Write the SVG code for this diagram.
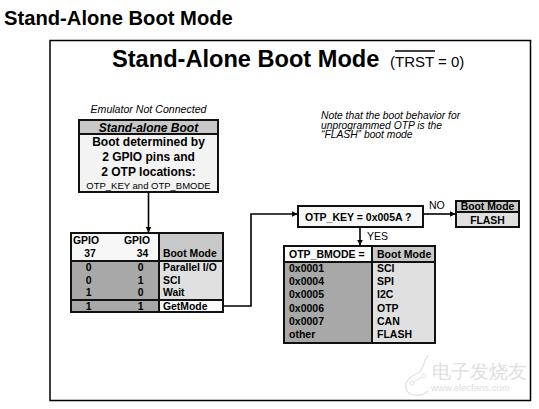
<svg xmlns="http://www.w3.org/2000/svg" width="539" height="409" viewBox="0 0 539 409">
<defs>
<style>
text{font-family:"Liberation Sans",Arial,sans-serif;fill:#000}
.b{font-weight:bold}
.i{font-style:italic}
.c{text-anchor:middle}
.box{stroke:#111;stroke-width:2}
.ln{stroke:#111;stroke-width:2;fill:none}
.con{stroke:#000;stroke-width:1.6;fill:none}
.t10{font-size:10.4px}
</style>
<marker id="ah" viewBox="0 0 10 10" refX="9" refY="5" markerWidth="6" markerHeight="6" markerUnits="userSpaceOnUse" orient="auto"><path d="M0,0L10,5L0,10z" fill="#000"/></marker>
</defs>
<rect width="539" height="409" fill="#fff"/>
<text x="4" y="25" class="b" font-size="20.2">Stand-Alone Boot Mode</text>
<rect x="50" y="40.5" width="480.5" height="360" fill="#fff" stroke="#000" stroke-width="1.5"/>
<text x="112" y="67" class="b" font-size="23.6">Stand-Alone Boot Mode</text>
<text x="390" y="67" font-size="15">(TRST = 0)</text>
<line x1="395" y1="51" x2="435" y2="51" stroke="#000" stroke-width="1.3"/>

<g id="note"><text class="i" font-size="10.3"><tspan x="321" y="119">Note that the boot behavior for</tspan><tspan x="321" y="128.5">unprogrammed OTP is the</tspan><tspan x="321" y="138">“FLASH” boot mode</tspan></text></g>

<g id="standalone">
<text x="148.5" y="113" class="i c" font-size="10.6">Emulator Not Connected</text>
<rect x="79" y="120" width="139" height="72" fill="#f3f3f3" class="box"/>
<rect x="79" y="120" width="139" height="14" fill="#c8c8c8" class="box"/>
<text x="148.5" y="131.5" class="b i c" font-size="12">Stand-alone Boot</text>
<text x="148.5" y="146" class="b c" font-size="12">Boot determined by</text>
<text x="148.5" y="161" class="b c" font-size="12">2 GPIO pins and</text>
<text x="148.5" y="176" class="b c" font-size="12">2 OTP locations:</text>
<text x="148.5" y="189" class="c" font-size="9.5">OTP_KEY and OTP_BMODE</text>
</g>

<g id="gpio-table">
<rect x="71" y="233" width="88" height="28" fill="#f7f7f7"/>
<rect x="159" y="233" width="64" height="28" fill="#c8c8c8"/>
<rect x="71" y="261" width="88" height="51" fill="#a8a8a8"/>
<rect x="159" y="261" width="64" height="39" fill="#e0e0e0"/>
<rect x="159" y="300" width="64" height="12" fill="#fafafa"/>
<rect x="71" y="233" width="152" height="79" class="ln"/>
<path d="M159,233V312M71,261H223M71,300H223" class="ln"/>
<g class="b t10">
<text x="86" y="244" class="c">GPIO</text>
<text x="137" y="244" class="c">GPIO</text>
<text x="90" y="257" class="c">37</text>
<text x="142.5" y="257" class="c">34</text>
<text x="163" y="257">Boot Mode</text>
<text x="88.7" y="271" class="c">0</text><text x="140.7" y="271" class="c">0</text><text x="163" y="271">Parallel I/O</text>
<text x="88.7" y="283.5" class="c">0</text><text x="140.7" y="283.5" class="c">1</text><text x="163" y="283.5">SCI</text>
<text x="88.7" y="296" class="c">1</text><text x="140.7" y="296" class="c">0</text><text x="163" y="296">Wait</text>
<text x="88.7" y="309.5" class="c">1</text><text x="140.7" y="309.5" class="c">1</text><text x="163" y="309.5">GetMode</text>
</g>
</g>

<g id="otp-key">
<rect x="298" y="206" width="125" height="21" fill="#f7f7f7" class="box"/>
<text x="305" y="220.5" class="b" font-size="10.5">OTP_KEY = 0x005A ?</text>
</g>

<g id="flash-box">
<rect x="456" y="201" width="63" height="26" fill="#e0e0e0" class="box"/>
<rect x="456" y="201" width="63" height="11" fill="#c8c8c8" class="box"/>
<text x="487.5" y="210" class="b c" font-size="10.4">Boot Mode</text>
<text x="487.5" y="223.5" class="b c" font-size="10.4">FLASH</text>
</g>

<g id="otp-bmode-table">
<rect x="284" y="246" width="88" height="16" fill="#fafafa"/>
<rect x="372" y="246" width="63" height="16" fill="#c8c8c8"/>
<rect x="284" y="262" width="88" height="81" fill="#a8a8a8"/>
<rect x="372" y="262" width="63" height="81" fill="#e0e0e0"/>
<rect x="284" y="246" width="151" height="97" class="ln"/>
<path d="M372,246V343M284,262H435" class="ln"/>
<g class="b" font-size="10.5">
<text x="289" y="258">OTP_BMODE =</text><text x="377" y="258">Boot Mode</text>
<text x="289" y="272">0x0001</text><text x="377" y="272">SCI</text>
<text x="289" y="285">0x0004</text><text x="377" y="285">SPI</text>
<text x="289" y="298">0x0005</text><text x="377" y="298">I2C</text>
<text x="289" y="312">0x0006</text><text x="377" y="312">OTP</text>
<text x="289" y="325">0x0007</text><text x="377" y="325">CAN</text>
<text x="289" y="338">other</text><text x="377" y="338">FLASH</text>
</g>
</g>

<g id="connectors">
<line x1="148.5" y1="193" x2="148.5" y2="232" class="con" marker-end="url(#ah)"/>
<path d="M224,306H251V214H297" class="con" marker-end="url(#ah)"/>
<line x1="424" y1="214" x2="455" y2="214" class="con" marker-end="url(#ah)"/>
<text x="429" y="209" font-size="10.5">NO</text>
<line x1="360" y1="228" x2="360" y2="245" class="con" marker-end="url(#ah)"/>
<text x="367" y="240" font-size="10.5">YES</text>
</g>

<g id="watermark">
<path d="M428,355c-6,10-4,14-10,18c-8,4-14,8-12,16c3,8,16,8,22,2" fill="none" stroke="#e2e2e2" stroke-width="1.2"/>
<circle cx="412" cy="383" r="2" fill="none" stroke="#e2e2e2"/>
<circle cx="424" cy="376" r="2" fill="none" stroke="#e2e2e2"/>
<line x1="413.5" y1="382" x2="422.5" y2="377" stroke="#e2e2e2"/>
<text x="432" y="378" font-family="'Noto Sans CJK SC',sans-serif" font-size="18.5" style="fill:#dedede">电子发烧友</text>
<text x="431" y="391" font-size="9.5" style="fill:#dedede">www.elecfans.com</text>
</g>
</svg>
